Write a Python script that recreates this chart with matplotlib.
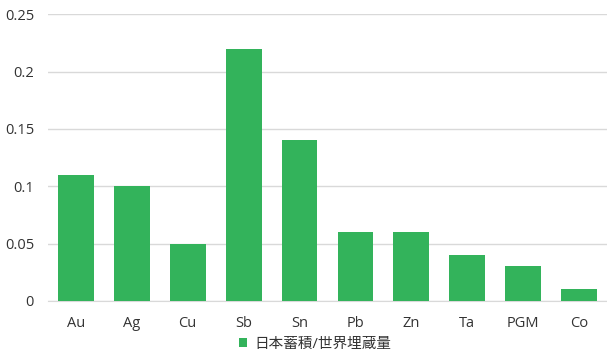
import matplotlib.pyplot as plt

plt.rcParams['font.family'] = ['Open Sans', 'Noto Sans CJK JP', 'DejaVu Sans']

metals = ['Au', 'Ag', 'Cu', 'Sb', 'Sn', 'Pb', 'Zn', 'Ta', 'PGM', 'Co']
ratio = [0.11, 0.10, 0.05, 0.22, 0.14, 0.06, 0.06, 0.04, 0.03, 0.01]
series_name = '日本蓄積/世界埋蔵量'

green = '#33B35B'
text_color = '#333333'

fig = plt.figure(figsize=(6.07, 3.54), dpi=100)
ax = fig.add_axes([0.079, 0.150, 0.921, 0.810])

ax.bar(range(len(metals)), ratio, width=0.64, color=green, label=series_name, zorder=3)

ax.set_xlim(-0.5, len(metals) - 0.5)
ax.set_ylim(0, 0.25)
ax.set_yticks([0, 0.05, 0.1, 0.15, 0.2, 0.25])
ax.set_yticklabels(['0', '0.05', '0.1', '0.15', '0.2', '0.25'])
ax.set_xticks(range(len(metals)))
ax.set_xticklabels(metals)

ax.yaxis.grid(True, color='#D9D9D9', linewidth=1, zorder=0)
for side in ['top', 'right', 'left']:
    ax.spines[side].set_visible(False)
ax.spines['bottom'].set_color('#D9D9D9')
ax.tick_params(axis='both', length=0, labelsize=10.5, colors=text_color)
ax.tick_params(axis='x', pad=11)
ax.tick_params(axis='y', pad=10)

fig.legend(handles=ax.get_legend_handles_labels()[0], labels=[series_name],
           loc='center', bbox_to_anchor=(0.519, 0.027), frameon=False,
           fontsize=10.5, handlelength=0.6, handleheight=0.6, handletextpad=0.5,
           labelcolor=text_color)

fig.savefig('out.png', dpi=100)
